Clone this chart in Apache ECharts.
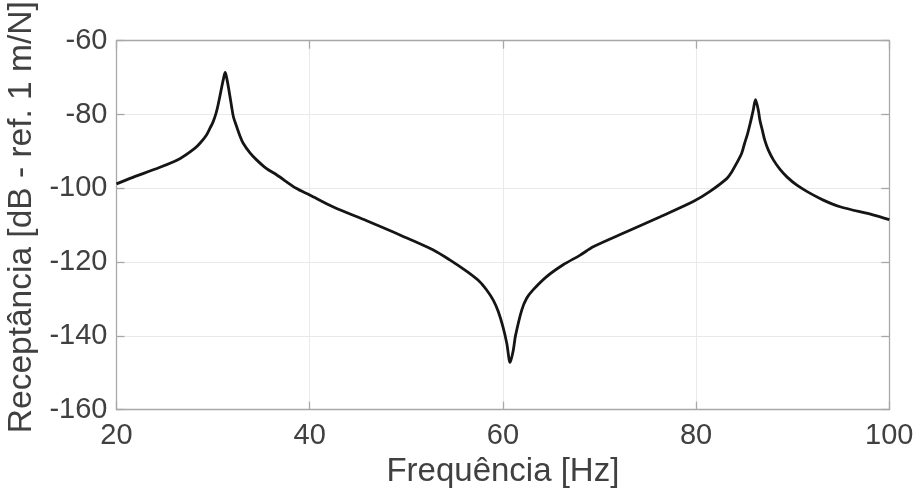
<!DOCTYPE html>
<html>
<head>
<meta charset="utf-8">
<script src="https://cdn.jsdelivr.net/npm/echarts@6/dist/echarts.min.js"></script>
<style>
html,body{margin:0;padding:0;background:#fff;}
#chart{width:917px;height:489px;}
</style>
</head>
<body>
<div id="chart"></div>
<script>
// Frequency (Hz) and receptance (dB ref. 1 m/N)
var freqHz = [20, 21.4, 24.5, 26.6, 28.1, 28.64, 29.3, 29.68, 30.0, 30.3, 30.55, 30.9, 31.1, 31.25, 31.4, 31.6, 31.9, 32.1, 32.4, 32.78, 33.1, 33.82, 34.5, 35.5, 36.6, 38.6, 40.0, 42.4, 45.9, 49.4, 52.8, 54.5, 56.3, 57.6, 58.3, 59.0, 59.52, 60.0, 60.4, 60.75, 61.08, 61.3, 61.95, 62.46, 63.1, 64.5, 66.2, 68.0, 69.4, 72.8, 76.3, 79.7, 81.4, 83.2, 83.7, 84.2, 84.72, 85.0, 85.34, 85.6, 85.9, 86.15, 86.45, 86.6, 86.85, 87.1, 87.47, 88.0, 88.69, 89.4, 90.4, 91.5, 93.17, 94.9, 98.3, 100];
var receptanceDb = [-98.8, -97.3, -94.3, -91.9, -89.2, -87.8, -85.6, -83.7, -82.0, -79.7, -77.0, -72.5, -70.0, -68.6, -70.0, -72.8, -77.6, -80.6, -83.0, -85.8, -87.7, -90.4, -92.3, -94.6, -96.4, -100.0, -101.8, -105.0, -108.8, -112.7, -116.7, -119.4, -122.6, -125.3, -127.5, -130.3, -133.4, -137.5, -142.0, -147.2, -143.8, -140.0, -133.0, -129.8, -127.6, -124.0, -120.8, -118.1, -115.8, -111.8, -107.7, -103.6, -100.9, -97.3, -95.5, -93.2, -90.5, -88.0, -85.1, -82.4, -79.0, -76.0, -79.0, -81.5, -84.2, -86.9, -89.6, -92.3, -94.9, -96.9, -99.1, -100.9, -103.2, -105.0, -107.2, -108.5];
var xTicks = [20, 40, 60, 80, 100];
var yTicks = [-160, -140, -120, -100, -80, -60];
var xTitle = 'Frequência [Hz]';
var yTitle = 'Receptância [dB - ref. 1 m/N]';

var pts = freqHz.map(function (f, i) { return [f, receptanceDb[i]]; });
var FONT = '"Liberation Sans", Arial, Helvetica, sans-serif';
var AX = '#a8a8a8';
var TXT = '#404040';

var chart = echarts.init(document.getElementById('chart'), null, {renderer: 'canvas'});
var xMin = xTicks[0], xMax = xTicks[xTicks.length - 1], xInt = xTicks[1] - xTicks[0];
var yMin = yTicks[0], yMax = yTicks[yTicks.length - 1], yInt = yTicks[1] - yTicks[0];
chart.setOption({
  animation: false,
  backgroundColor: '#ffffff',
  grid: {left: 116.5, right: 27.7, top: 40.7, bottom: 79.3, containLabel: false, outerBoundsMode: 'none'},
  xAxis: [{
    type: 'value', min: xMin, max: xMax, interval: xInt, position: 'bottom',
    name: xTitle, nameLocation: 'middle', nameGap: 44,
    nameTextStyle: {fontFamily: FONT, fontSize: 33, color: TXT},
    axisLine: {show: true, onZero: false, lineStyle: {color: AX, width: 1.3}},
    axisTick: {show: true, inside: true, length: 8, lineStyle: {color: AX, width: 1.3}},
    axisLabel: {fontFamily: FONT, fontSize: 29, color: TXT, margin: 12},
    splitLine: {show: true, lineStyle: {color: '#e9e9e9', width: 1}}
  }, {
    type: 'value', min: xMin, max: xMax, interval: xInt, position: 'top',
    axisLine: {show: true, onZero: false, lineStyle: {color: AX, width: 1.3}},
    axisTick: {show: true, inside: true, length: 8, lineStyle: {color: AX, width: 1.3}},
    axisLabel: {show: false}, splitLine: {show: false}
  }],
  yAxis: [{
    type: 'value', min: yMin, max: yMax, interval: yInt, position: 'left',
    name: yTitle, nameLocation: 'middle', nameGap: 77, nameRotate: 90,
    nameTextStyle: {fontFamily: FONT, fontSize: 33.5, color: TXT, padding: [0, 0, 0, 16]},
    axisLine: {show: true, onZero: false, lineStyle: {color: AX, width: 1.3}},
    axisTick: {show: true, inside: true, length: 8, lineStyle: {color: AX, width: 1.3}},
    axisLabel: {fontFamily: FONT, fontSize: 29, color: TXT, margin: 9},
    splitLine: {show: true, lineStyle: {color: '#e9e9e9', width: 1}}
  }, {
    type: 'value', min: yMin, max: yMax, interval: yInt, position: 'right',
    axisLine: {show: true, onZero: false, lineStyle: {color: AX, width: 1.3}},
    axisTick: {show: true, inside: true, length: 8, lineStyle: {color: AX, width: 1.3}},
    axisLabel: {show: false}, splitLine: {show: false}
  }],
  series: [{
    type: 'line', xAxisIndex: 0, yAxisIndex: 0,
    data: pts, showSymbol: false, smooth: 0.3,
    lineStyle: {color: '#151515', width: 2.8},
    z: 5
  }]
});
</script>
</body>
</html>
